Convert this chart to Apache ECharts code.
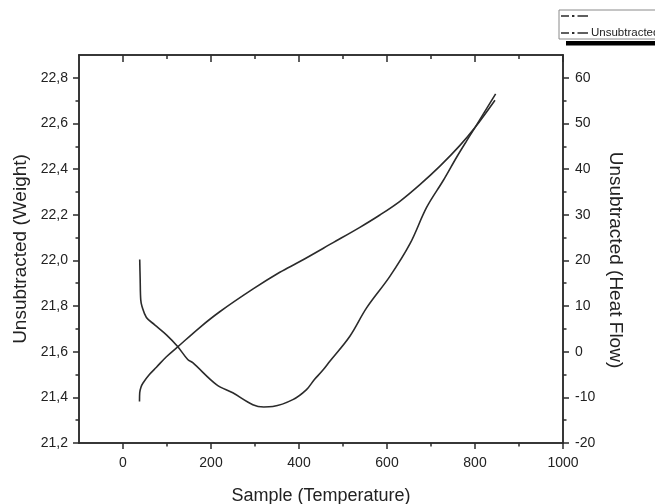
<!DOCTYPE html>
<html>
<head>
<meta charset="utf-8">
<script src="https://cdn.jsdelivr.net/npm/echarts@6/dist/echarts.min.js"></script>
<style>html,body{margin:0;padding:0;background:#fff;}#c{width:655px;height:504px;}</style>
</head>
<body>
<div id="c"></div>
<script>
// ---- data ----
const weightTemp = [37.5, 38, 41, 45.5, 60, 76, 98.7, 123.7, 174.4, 219.9, 295.7, 356.4, 401.9, 477.6, 538.3, 583.8, 629.3, 674.8, 720.3, 765.8, 799.9, 845.4];
const weightVals = [21.382, 21.420, 21.445, 21.463, 21.500, 21.532, 21.578, 21.620, 21.706, 21.775, 21.875, 21.948, 21.995, 22.078, 22.145, 22.199, 22.259, 22.332, 22.413, 22.504, 22.582, 22.702];

const heatTemp = [38, 39, 40.3, 43.2, 53.2, 72, 98.7, 123.7, 147.1, 158.5, 212.4, 249.5, 295, 320, 340.5, 386, 417.1, 435, 452, 470.1, 515.6, 553.6, 606.5, 652, 690, 727.8, 758.2, 781, 799.9, 846.9];
const heatVals = [20.2, 16.0, 11.4, 9.9, 7.5, 5.9, 3.7, 1.2, -1.7, -2.4, -7.2, -9.0, -11.6, -12.1, -12.0, -10.5, -8.3, -6.1, -4.3, -2.1, 3.4, 9.6, 16.5, 23.6, 31.6, 37.5, 42.6, 46.2, 49.1, 56.5];

const xMajor = [0, 200, 400, 600, 800, 1000];
const xMinor = [100, 300, 500, 700, 900];
const wMajor = [21.2, 21.4, 21.6, 21.8, 22.0, 22.2, 22.4, 22.6, 22.8];
const wMinor = [21.3, 21.5, 21.7, 21.9, 22.1, 22.3, 22.5, 22.7];
const hMajor = [-20, -10, 0, 10, 20, 30, 40, 50, 60];
const hMinor = [-15, -5, 5, 15, 25, 35, 45, 55];

// ---- chart ----
const ink = '#2b2b2b';
const font = 'Liberation Sans, Arial, Helvetica, sans-serif';
const X_MIN = -100, X_MAX = 1000, W_MIN = 21.2, W_MAX = 22.9, H_MIN = -20, H_MAX = 65;

function xAx(opts) {
  return Object.assign({
    type: 'value', min: X_MIN, max: X_MAX, position: 'bottom',
    axisLine: { show: true, onZero: false, lineStyle: { color: ink, width: 1.5 } },
    splitLine: { show: false },
    axisLabel: { show: false },
    axisTick: { show: false }
  }, opts);
}
function yAx(min, max, opts) {
  return Object.assign({
    type: 'value', min: min, max: max,
    axisLine: { show: true, onZero: false, lineStyle: { color: ink, width: 1.5 } },
    splitLine: { show: false },
    axisLabel: { show: false },
    axisTick: { show: false }
  }, opts);
}
const comma = v => (Math.round(v * 10) / 10).toFixed(1).replace('.', ',');
const plain = v => String(Math.round(v));

const option = {
  animation: false,
  backgroundColor: '#fff',
  grid: { left: 79, right: 92, top: 55, bottom: 61, containLabel: false, outerBoundsMode: 'none' },
  xAxis: [
    xAx({
      name: 'Sample (Temperature)', nameLocation: 'middle', nameGap: 44,
      nameTextStyle: { fontFamily: font, fontSize: 18, color: '#222' },
      axisTick: { show: true, inside: false, length: 6, customValues: xMajor, lineStyle: { color: ink, width: 1.5 } },
      axisLabel: { show: true, margin: 13, customValues: xMajor, formatter: plain, fontFamily: font, fontSize: 14, color: '#222' }
    }),
    xAx({ axisTick: { show: true, length: 3.5, customValues: xMinor, lineStyle: { color: ink, width: 1.5 } } }),
    xAx({ position: 'top', axisTick: { show: true, inside: true, length: 7, customValues: xMajor, lineStyle: { color: ink, width: 1.5 } } }),
    xAx({ position: 'top', axisTick: { show: true, inside: true, length: 4, customValues: xMinor, lineStyle: { color: ink, width: 1.5 } } })
  ],
  yAxis: [
    yAx(W_MIN, W_MAX, {
      position: 'left',
      name: 'Unsubtracted (Weight)', nameLocation: 'middle', nameGap: 48, nameRotate: 90,
      nameTextStyle: { fontFamily: font, fontSize: 19, color: '#222' },
      axisTick: { show: true, length: 6, customValues: wMajor, lineStyle: { color: ink, width: 1.5 } },
      axisLabel: { show: true, margin: 11, customValues: wMajor, formatter: comma, fontFamily: font, fontSize: 14, color: '#222' }
    }),
    yAx(W_MIN, W_MAX, { position: 'left', axisTick: { show: true, length: 3.5, customValues: wMinor, lineStyle: { color: ink, width: 1.5 } } }),
    yAx(H_MIN, H_MAX, {
      position: 'right',
      name: 'Unsubtracted (Heat Flow)', nameLocation: 'middle', nameGap: 36, nameRotate: -90,
      nameTextStyle: { fontFamily: font, fontSize: 19, color: '#222', padding: [0, 0, 0, 22] },
      axisTick: { show: true, length: 6, customValues: hMajor, lineStyle: { color: ink, width: 1.5 } },
      axisLabel: { show: true, margin: 12, customValues: hMajor, fontFamily: font, fontSize: 14, color: '#222' }
    }),
    yAx(H_MIN, H_MAX, { position: 'right', axisTick: { show: true, length: 3.5, customValues: hMinor, lineStyle: { color: ink, width: 1.5 } } })
  ],
  legend: {
    orient: 'vertical', left: 559, top: 10,
    padding: [0, 40, 0, 2], itemGap: 5, itemWidth: 27, itemHeight: 9,
    backgroundColor: '#fff', borderColor: '#8a8a8a', borderWidth: 1, borderRadius: 0,
    icon: 'path://M0,4 L8,4 L8,5.4 L0,5.4 Z M11,3.6 L13.4,3.6 L13.4,5.8 L11,5.8 Z M16.5,4 L27,4 L27,5.4 L16.5,5.4 Z',
    textStyle: { fontFamily: font, fontSize: 11.5, lineHeight: 11, color: '#222', padding: [0, 0, 0, -2] },
    data: [{ name: ' ' }, { name: 'Unsubtracted' }]
  },
  graphic: [
    { type: 'rect', shape: { x: 566, y: 41, width: 95, height: 4.5 }, style: { fill: '#000' }, silent: true }
  ],
  series: [
    {
      name: 'Unsubtracted', type: 'line', xAxisIndex: 0, yAxisIndex: 0,
      data: weightTemp.map((t, i) => [t, weightVals[i]]),
      symbol: 'none', smooth: 0.35,
      lineStyle: { color: ink, width: 1.6 }, itemStyle: { color: ink }
    },
    {
      name: ' ', type: 'line', xAxisIndex: 0, yAxisIndex: 2,
      data: heatTemp.map((t, i) => [t, heatVals[i]]),
      symbol: 'none', smooth: 0.35,
      lineStyle: { color: ink, width: 1.6 }, itemStyle: { color: ink }
    }
  ]
};

const chart = echarts.init(document.getElementById('c'), null, { renderer: 'canvas' });
chart.setOption(option);
</script>
</body>
</html>
